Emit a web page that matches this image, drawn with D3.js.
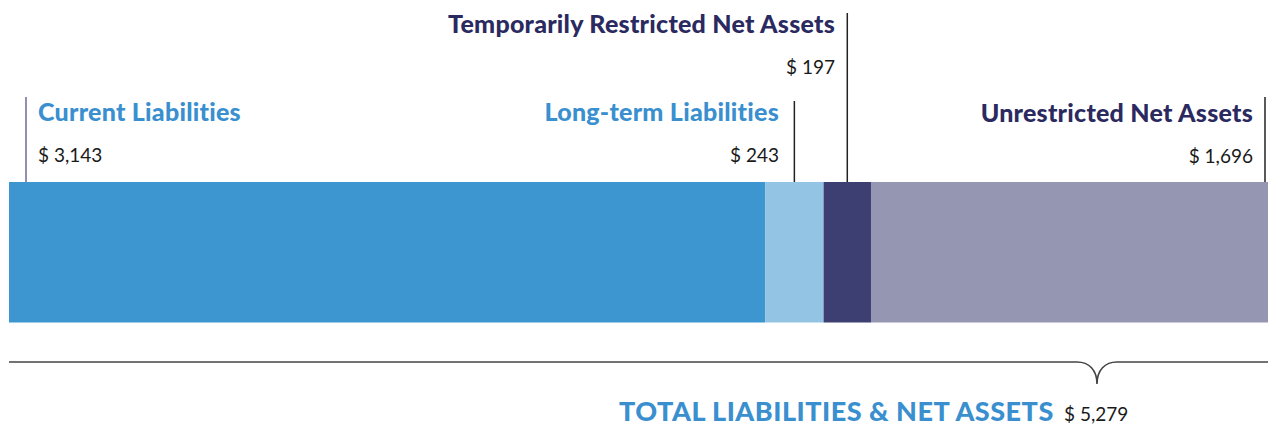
<!DOCTYPE html>
<html lang="en">
<head>
<meta charset="UTF-8">
<title>Liabilities & Net Assets</title>
<script src="https://cdn.jsdelivr.net/npm/d3@7"></script>
<style>
    body{ margin:0; background:#fff; }
    svg{ display:block; font-family: Lato, "Open Sans", sans-serif; }
</style>
</head>
<body>
<div id="root"></div>
<script>
    // data
    let categories = ["Current Liabilities","Long-term Liabilities","Temporarily Restricted Net Assets","Unrestricted Net Assets"]
    let values = [3143,243,197,1696]
    let valueLabels = ["$ 3,143","$ 243","$ 197","$ 1,696"]
    let totalLabel = "TOTAL LIABILITIES & NET ASSETS"
    let totalValue = 5279
    let totalValueLabel = "$ 5,279"

    let colors = ["#3d96d0","#93c4e4","#3d3f73","#9596b2"]
    let labelColors = ["#3a8fcf","#3a8fcf","#2b2a60","#2b2a60"]

    let width = 1268, height = 427, barLeft = 9, barTop = 182, barH = 140.5

    let svg = d3.select("#root").append("svg").attr("width",width).attr("height",height)

    let x = d3.scaleLinear().domain([0,totalValue]).range([barLeft, barLeft + 1270])

    let starts = d3.cumsum([0].concat(values)).slice(0,values.length)
    let segs = values.map((v,i)=>({name:categories[i],value:v,start:starts[i],label:valueLabels[i],color:colors[i],lc:labelColors[i]}))

    svg.append("g").selectAll("rect").data(segs).join("rect")
        .attr("x",d=>x(d.start))
        .attr("y",barTop)
        .attr("width",d=>x(d.start+d.value)-x(d.start))
        .attr("height",barH)
        .attr("fill",d=>d.color)

    // leader lines + labels
    let layout = [
        {lx: x(segs[0].start)+17, top:97, anchor:"start", tx:38, ty:121, lineColor:"#6e6b98"},
        {lx: x(segs[1].start+segs[1].value/2), top:101, anchor:"end", tx:779, ty:121, lineColor:"#222"},
        {lx: x(segs[2].start+segs[2].value/2), top:13, anchor:"end", tx:835, ty:33, lineColor:"#222"},
        {lx: 1265, top:97, anchor:"end", tx:1253, ty:122, lineColor:"#222"}
    ]

    let g = svg.append("g")
    segs.forEach(function(d,i){
        let l = layout[i]
        g.append("line")
            .attr("x1",l.lx).attr("x2",l.lx)
            .attr("y1",l.top).attr("y2",barTop)
            .attr("stroke",l.lineColor).attr("stroke-width",1.5)
        g.append("text")
            .attr("x",l.tx).attr("y",l.ty)
            .attr("text-anchor",l.anchor)
            .attr("fill",d.lc)
            .style("font-weight","900").style("font-size","25px")
            .style("letter-spacing","0.25px")
            .text(d.name)
        g.append("text")
            .attr("x",l.tx).attr("y",l.ty+41)
            .attr("text-anchor",l.anchor)
            .attr("fill","#1a1a1a")
            .style("font-size","19px")
            .text(d.label)
    })

    // brace line under bar
    let braceY = 362, bx = 1097
    let path = d3.path()
    path.moveTo(barLeft, braceY)
    path.lineTo(bx-20, braceY)
    path.bezierCurveTo(bx-8, braceY, bx, braceY+8, bx, braceY+22)
    path.bezierCurveTo(bx, braceY+8, bx+8, braceY, bx+20, braceY)
    path.lineTo(width, braceY)
    svg.append("path").attr("d",path.toString())
        .attr("fill","none").attr("stroke","#444").attr("stroke-width",1.6)

    svg.append("text").attr("x",619).attr("y",421)
        .attr("fill","#3a8fcf")
        .style("font-weight","900").style("font-size","27px")
        .style("letter-spacing","0.5px")
        .text(totalLabel)
    svg.append("text").attr("x",1064).attr("y",421)
        .attr("fill","#1a1a1a").style("font-size","19px")
        .text(totalValueLabel)
</script>
</body>
</html>
